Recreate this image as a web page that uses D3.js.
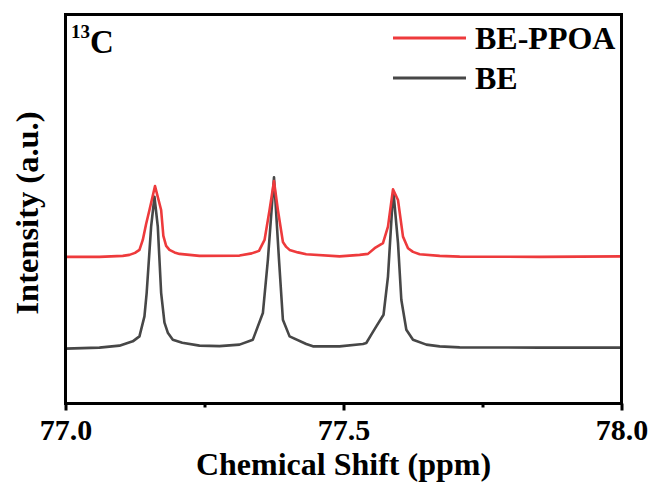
<!DOCTYPE html>
<html>
<head>
<meta charset="utf-8">
<script src="https://cdn.jsdelivr.net/npm/d3@7"></script>
<style>
  html, body { margin: 0; padding: 0; background: #fff; }
  svg { display: block; }
  text { font-family: "Liberation Serif", "Times New Roman", serif; font-weight: bold; fill: #000; }
</style>
</head>
<body>
<script>
// ---- data ----
const seriesNames = ["BE-PPOA", "BE"];
const seriesColors = ["#ee3a3c", "#474747"];

const bePpoaPpm = [77.000, 77.061, 77.103, 77.115, 77.125, 77.133, 77.139, 77.145, 77.151, 77.161, 77.172, 77.176, 77.181, 77.187, 77.196, 77.205, 77.241,
  77.313, 77.335, 77.348, 77.358, 77.367, 77.375, 77.382, 77.391, 77.397, 77.403, 77.418, 77.433, 77.493, 77.529, 77.544, 77.556, 77.571,
  77.580, 77.589, 77.598, 77.607, 77.616, 77.625, 77.637, 77.673, 77.709, 77.853, 78.000];
const bePpoaInt = [147, 147, 148, 149, 151, 154, 164, 180, 194, 218, 194, 168, 158, 154, 151.5, 150, 148,
  148.3, 150.5, 153, 164, 194, 223, 194, 162, 157, 154, 151.5, 149.7, 147.5, 149, 150, 155.7, 160.7,
  177.3, 214.7, 204, 167.3, 155.7, 152, 149.7, 148, 147.3, 147, 147.5];

const bePpm = [77.000, 77.061, 77.097, 77.121, 77.133, 77.142, 77.146, 77.154, 77.160, 77.166, 77.172, 77.178,
  77.184, 77.193, 77.210, 77.241, 77.277, 77.313, 77.337, 77.355, 77.364, 77.375, 77.384, 77.391, 77.403, 77.433,
  77.445, 77.493, 77.535, 77.541, 77.550, 77.559, 77.572, 77.580, 77.588, 77.590, 77.598, 77.604, 77.613, 77.625,
  77.649, 77.673, 77.709, 77.853, 78.000];
const beInt = [55, 56, 58, 62.3, 67.3, 87.3, 111, 177.3, 207.3, 177.3, 111, 81,
  71, 64, 61, 58, 57.5, 59, 64, 90.7, 144, 226.7, 144, 84, 67.3, 59.7,
  57.3, 57.3, 59.7, 60.7, 69, 77.3, 89, 127.3, 200.7, 211, 161, 104, 74, 64,
  59, 57.3, 56.3, 56, 56];

const majorTicks = [77.0, 77.5, 78.0];
const minorTicks = [77.25, 77.75];
const xDomain = [77.0, 78.0];
const yDomain = [0, 390];
const xTitle = "Chemical Shift (ppm)";
const yTitle = "Intensity (a.u.)";

// ---- layout ----
const W = 654, H = 484;
const L = 65.5, R = 621.5, T = 14.5, B = 403.5;

const svg = d3.select("body").append("svg").attr("width", W).attr("height", H);

const x = d3.scaleLinear().domain(xDomain).range([L, R]);
const y = d3.scaleLinear().domain(yDomain).range([B, T]);

const line = d3.line().x(d => x(d[0])).y(d => y(d[1]));

const beData = bePpm.map((p, i) => [p, beInt[i]]);
const ppoaData = bePpoaPpm.map((p, i) => [p, bePpoaInt[i]]);

// clip
svg.append("clipPath").attr("id", "clip").append("rect")
  .attr("x", L).attr("y", T).attr("width", R - L).attr("height", B - T);

const g = svg.append("g").attr("clip-path", "url(#clip)");
g.append("path").datum(beData).attr("d", line)
  .attr("fill", "none").attr("stroke", seriesColors[1]).attr("stroke-width", 2.6)
  .attr("stroke-linejoin", "round");
g.append("path").datum(ppoaData).attr("d", line)
  .attr("fill", "none").attr("stroke", seriesColors[0]).attr("stroke-width", 2.6)
  .attr("stroke-linejoin", "round");

// x axis
const xAxis = d3.axisBottom(x).tickValues(majorTicks).tickSize(7).tickPadding(8)
  .tickFormat(d3.format(".1f"));
const ax = svg.append("g").attr("transform", `translate(0,${B})`).call(xAxis);
ax.select(".domain").remove();
ax.selectAll(".tick line").attr("stroke", "#000").attr("stroke-width", 3);
ax.selectAll(".tick text").attr("font-size", 30)
  .style("font-family", '"Liberation Serif", "Times New Roman", serif').style("font-weight", "bold")
  .attr("fill", "#000");

const axMinor = d3.axisBottom(x).tickValues(minorTicks).tickSize(4).tickFormat("");
const axm = svg.append("g").attr("transform", `translate(0,${B})`).call(axMinor);
axm.select(".domain").remove();
axm.selectAll(".tick line").attr("stroke", "#000").attr("stroke-width", 3);

// frame
svg.append("rect").attr("x", L).attr("y", T).attr("width", R - L).attr("height", B - T)
  .attr("fill", "none").attr("stroke", "#000").attr("stroke-width", 3);

// titles
svg.append("text").attr("x", (L + R) / 2).attr("y", 475).attr("text-anchor", "middle")
  .attr("font-size", 32).text(xTitle);
svg.append("text").attr("transform", `translate(38,213) rotate(-90)`).attr("text-anchor", "middle")
  .attr("font-size", 32.5).text(yTitle);

// 13C label
const lab = svg.append("text").attr("x", 71).attr("y", 53);
lab.append("tspan").attr("font-size", 19).attr("dy", -15).text("13");
lab.append("tspan").attr("font-size", 33).attr("dy", 15).text("C");

// legend
const legY = [38, 78];
seriesNames.forEach((name, i) => {
  svg.append("line").attr("x1", 393).attr("x2", 466).attr("y1", legY[i]).attr("y2", legY[i])
    .attr("stroke", seriesColors[i]).attr("stroke-width", 3);
  svg.append("text").attr("x", 475).attr("y", legY[i] + 11).attr("font-size", 32).text(name);
});
</script>
</body>
</html>
